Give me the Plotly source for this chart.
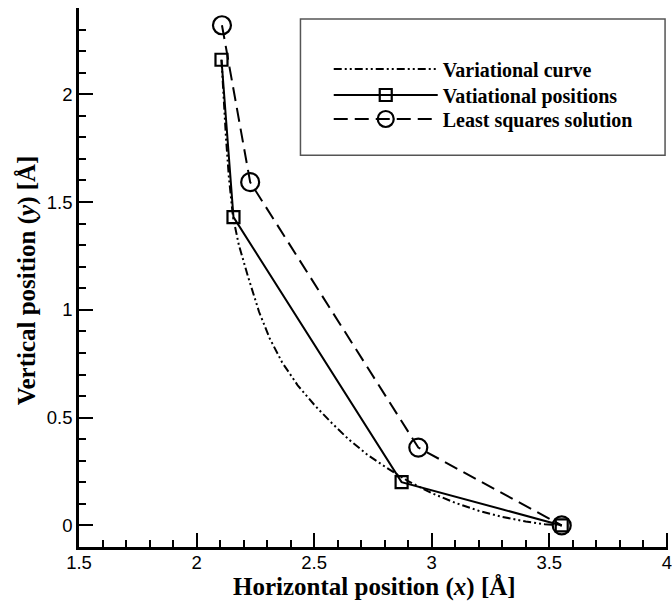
import plotly.graph_objects as go

# Variational curve (dash-dot-dot)
curve_x = [2.106, 2.115, 2.125, 2.137, 2.155, 2.18, 2.22, 2.266, 2.31, 2.364, 2.43, 2.505, 2.575, 2.646, 2.73, 2.816, 2.90, 3.00, 3.10, 3.20, 3.30, 3.40, 3.48, 3.553]
curve_y = [2.16, 1.98, 1.80, 1.62, 1.43, 1.30, 1.15, 0.99, 0.87, 0.756, 0.65, 0.554, 0.475, 0.40, 0.325, 0.262, 0.205, 0.15, 0.105, 0.068, 0.04, 0.018, 0.006, 0.0]

# Variational positions (squares)
pos_x = [2.106, 2.157, 2.872, 3.553]
pos_y = [2.16, 1.43, 0.201, 0.0]

# Least squares solution (circles)
ls_x = [2.108, 2.228, 2.943, 3.553]
ls_y = [2.32, 1.592, 0.361, 0.0]

x_ticks = [1.5, 2, 2.5, 3, 3.5, 4]
x_labels = ["1.5", "2", "2.5", "3", "3.5", "4"]
y_ticks = [0, 0.5, 1, 1.5, 2]
y_labels = ["0", "0.5", "1", "1.5", "2"]

fig = go.Figure()
fig.add_trace(go.Scatter(
    x=curve_x, y=curve_y, mode="lines", name="Variational curve", legend="legend",
    line=dict(color="black", width=2, dash="8px,3px,2px,3px,2px,3px"),
))
fig.add_trace(go.Scatter(
    x=pos_x, y=pos_y, mode="lines+markers", name="Vatiational positions", legend="legend2",
    line=dict(color="black", width=2),
    marker=dict(symbol="square-open", size=12, color="black", line=dict(width=2.2, color="black")),
))
fig.add_trace(go.Scatter(
    x=ls_x, y=ls_y, mode="lines+markers", name="Least squares solution", legend="legend3",
    line=dict(color="black", width=2, dash="14px,7px"),
    marker=dict(symbol="circle-open", size=18, color="black", line=dict(width=2.2, color="black")),
))

tickfont = dict(family="Liberation Sans, Arial, sans-serif", size=18.5, color="black")
titlefont = dict(family="Liberation Serif, Times New Roman, serif", size=25, color="black", weight="bold")
legfont = dict(family="Liberation Serif, Times New Roman, serif", size=20, color="black", weight="bold")

def leg(y):
    return dict(x=0.424, y=y, xanchor="left", yanchor="middle",
                bgcolor="rgba(0,0,0,0)", borderwidth=0, font=legfont, itemwidth=104)

fig.update_layout(
    width=672, height=604,
    margin=dict(l=79, r=0, t=8, b=57),
    paper_bgcolor="white", plot_bgcolor="white",
    showlegend=True,
    legend=leg(0.8868),
    legend2=leg(0.8386),
    legend3=leg(0.7941),
    xaxis=dict(
        range=[1.5, 4.005], tickmode="array", tickvals=x_ticks, ticktext=x_labels,
        ticks="inside", ticklen=14, tickwidth=2, tickcolor="black",
        showline=True, linewidth=2.5, linecolor="black", mirror=False,
        showgrid=False, zeroline=False, tickfont=tickfont, ticklabeloverflow="allow",
        ticklabelstandoff=-3,
        minor=dict(dtick=0.1, tick0=0, ticks="inside", ticklen=7, tickwidth=1.5, tickcolor="black", showgrid=False),
    ),
    yaxis=dict(
        range=[-0.1, 2.4], tickmode="array", tickvals=y_ticks, ticktext=y_labels,
        ticks="inside", ticklen=14, tickwidth=2, tickcolor="black",
        showline=True, linewidth=2.5, linecolor="black", mirror=False,
        showgrid=False, zeroline=False, tickfont=tickfont,
        minor=dict(dtick=0.1, tick0=0, ticks="inside", ticklen=7, tickwidth=1.5, tickcolor="black", showgrid=False),
    ),
    annotations=[
        dict(text="<b>Horizontal position (<i>x</i>) [Å]</b>", xref="paper", yref="paper",
             x=0.5025, y=-0.0750, xanchor="center", yanchor="middle", showarrow=False, font=titlefont),
        dict(text="<b>Vertical position (<i>y</i>) [Å]</b>", xref="paper", yref="paper",
             x=-0.0877, y=0.4954, xanchor="center", yanchor="middle", showarrow=False,
             textangle=-90, font=titlefont),
    ],
    shapes=[dict(
        type="rect", xref="paper", yref="paper",
        x0=0.376, x1=0.995, y0=0.727, y1=0.9796,
        line=dict(color="#555555", width=1.5), fillcolor="rgba(0,0,0,0)", layer="below",
    )],
)

fig.write_html("out.html")
